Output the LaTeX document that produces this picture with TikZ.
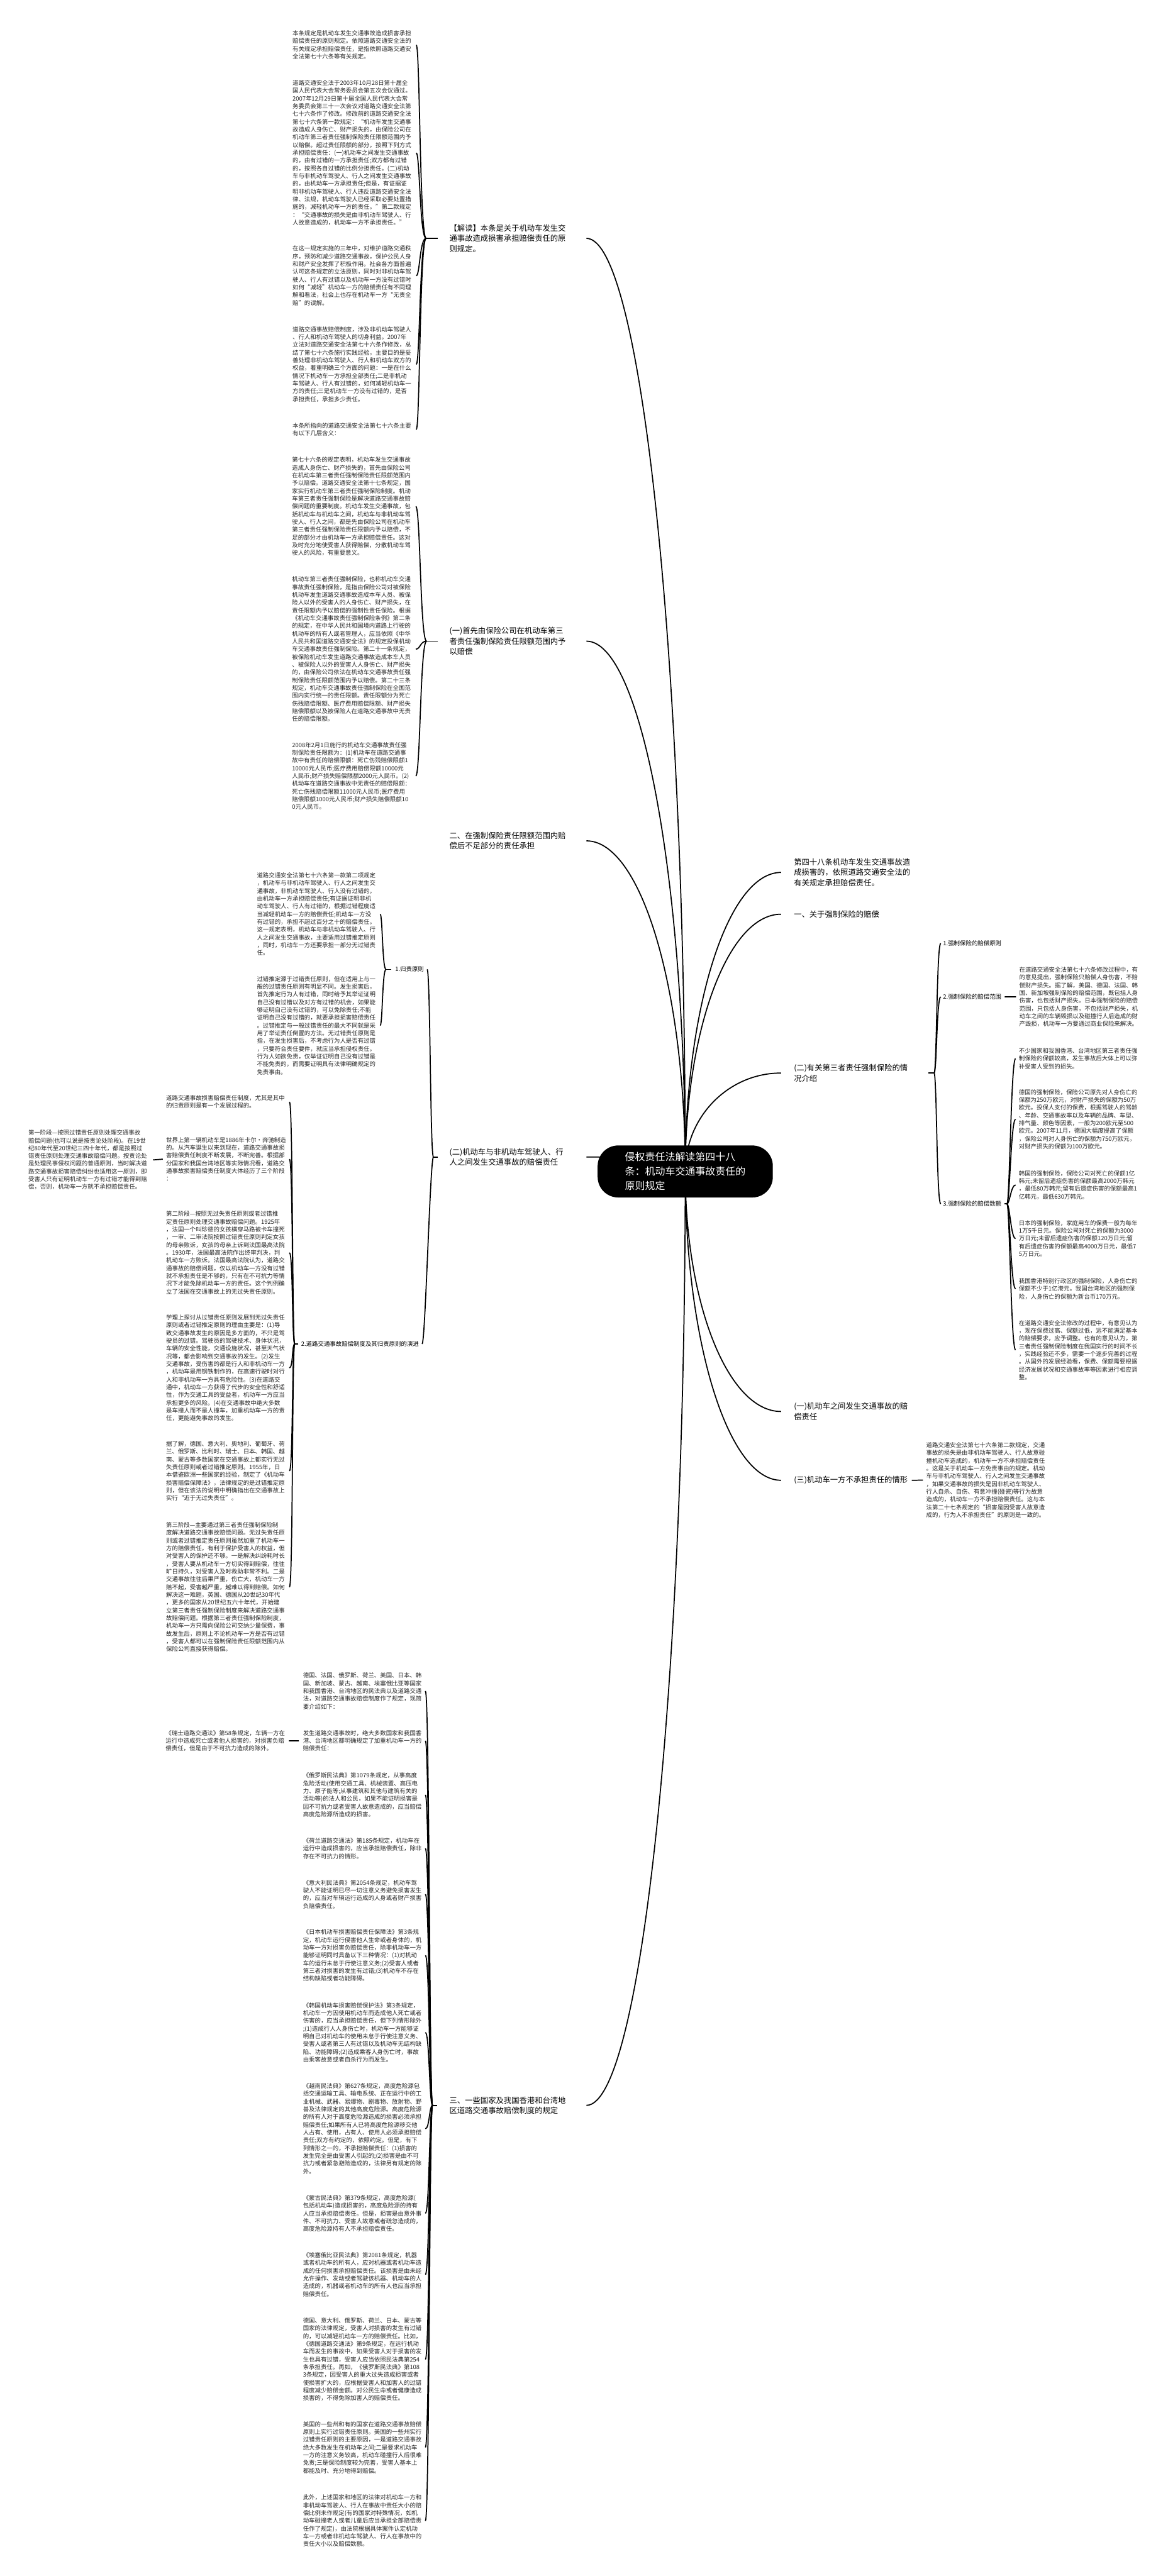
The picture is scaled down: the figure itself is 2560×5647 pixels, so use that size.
\documentclass[tikz,border=0pt]{standalone}
\usepackage{fontspec}
\setmainfont{Noto Sans CJK SC}
\usetikzlibrary{calc}
\definecolor{txt}{HTML}{262626}
\pgfdeclarelayer{bglayer}
\pgfsetlayers{bglayer,main}
\newcommand\ellc[2]{\draw[con] (#1) .. controls ($(#1)!0.552!(#1|-#2)$) and ($(#2)!0.552!(#1|-#2)$) .. (#2);}
\begin{document}
\begin{tikzpicture}[x=1pt,y=-1pt,
 blk/.style={font=\fontsize{13}{17}\selectfont, text width=262pt, align=left, inner sep=0pt, anchor=base west, text=txt},
 lvone/.style={font=\fontsize{17}{22.5}\selectfont, text width=260pt, align=left, inner sep=0pt, anchor=base west, text=black},
 lvtwo/.style={font=\fontsize{13}{17}\selectfont, inner sep=0pt, anchor=base west, text=black},
 cnode/.style={fill=black, text=white, rounded corners=45pt, font=\fontsize{22}{32}\selectfont, align=left, minimum width=384pt, minimum height=114pt, inner sep=0pt},
 con/.style={line width=2.4pt, draw=black}
]
\useasboundingbox (0,0) rectangle (2560,5647);
\begin{pgfonlayer}{bglayer}
\fill[white] (0,0) rectangle (2560,5647);
\end{pgfonlayer}

% ---------------- central node
\node[cnode] (C) at (1502,2568) {侵权责任法解读第四十八\\条：机动车交通事故责任的\\原则规定};

% ---------------- left level one
\node[lvone] (jd) at (985,506.5) {【解读】本条是关于机动车发生交\\通事故造成损害承担赔偿责任的原\\则规定。};
\node[lvone] (y1) at (985,1389.5) {(一)首先由保险公司在机动车第三\\者责任强制保险责任限额范围内予\\以赔偿};
\node[lvone] (e2) at (985,1838.5) {二、在强制保险责任限额范围内赔\\偿后不足部分的责任承担};
\node[lvone] (e2b) at (985,2531.5) {(二)机动车与非机动车驾驶人、行\\人之间发生交通事故的赔偿责任};
\node[lvone] (s3) at (985,4610.5) {三、一些国家及我国香港和台湾地\\区道路交通事故赔偿制度的规定};

% ---------------- right level one
\node[lvone] (r48) at (1740,1896.5) {第四十八条机动车发生交通事故造\\成损害的，依照道路交通安全法的\\有关规定承担赔偿责任。};
\node[lvone] (r1) at (1740,2010.5) {一、关于强制保险的赔偿};
\node[lvone] (r2) at (1740,2347.5) {(二)有关第三者责任强制保险的情\\况介绍};
\node[lvone] (ra) at (1740,3089.5) {(一)机动车之间发生交通事故的赔\\偿责任};
\node[lvone] (rc) at (1740,3250.5) {(三)机动车一方不承担责任的情形};

% ---------------- level two
\node[lvtwo] (g1) at (866,2130) {1.归责原则};
\node[lvtwo] (g2) at (660,2951) {2.道路交通事故赔偿制度及其归责原则的演进};
\node[lvtwo] (q1) at (2067,2073) {1.强制保险的赔偿原则};
\node[lvtwo] (q2) at (2067,2190) {2.强制保险的赔偿范围};
\node[lvtwo] (q3) at (2067,2644) {3.强制保险的赔偿数额};

% ---------------- blocks of 【解读】
\node[blk] (L1) at (641,78) {本条规定是机动车发生交通事故造成损害承担\\赔偿责任的原则规定。依照道路交通安全法的\\有关规定承担赔偿责任，是指依照道路交通安\\全法第七十六条等有关规定。};
\node[blk] (L2) at (641,187) {道路交通安全法于2003年10月28日第十届全\\国人民代表大会常务委员会第五次会议通过。\\2007年12月29日第十届全国人民代表大会常\\务委员会第三十一次会议对道路交通安全法第\\七十六条作了修改。修改前的道路交通安全法\\第七十六条第一款规定：“机动车发生交通事\\故造成人身伤亡、财产损失的，由保险公司在\\机动车第三者责任强制保险责任限额范围内予\\以赔偿。超过责任限额的部分，按照下列方式\\承担赔偿责任：(一)机动车之间发生交通事故\\的，由有过错的一方承担责任;双方都有过错\\的，按照各自过错的比例分担责任。(二)机动\\车与非机动车驾驶人、行人之间发生交通事故\\的，由机动车一方承担责任;但是，有证据证\\明非机动车驾驶人、行人违反道路交通安全法\\律、法规，机动车驾驶人已经采取必要处置措\\施的，减轻机动车一方的责任。”第二款规定\\：“交通事故的损失是由非机动车驾驶人、行\\人故意造成的，机动车一方不承担责任。”};
\node[blk] (L3) at (641,550) {在这一规定实施的三年中，对维护道路交通秩\\序，预防和减少道路交通事故，保护公民人身\\和财产安全发挥了积极作用。社会各方面普遍\\认可这条规定的立法原则，同时对非机动车驾\\驶人、行人有过错以及机动车一方没有过错时\\如何“减轻”机动车一方的赔偿责任有不同理\\解和看法，社会上也存在机动车一方“无责全\\赔”的误解。};
\node[blk] (L4) at (641,727) {道路交通事故赔偿制度，涉及非机动车驾驶人\\、行人和机动车驾驶人的切身利益。2007年\\立法对道路交通安全法第七十六条作修改，总\\结了第七十六条施行实践经验，主要目的是妥\\善处理非机动车驾驶人、行人和机动车双方的\\权益，着重明确三个方面的问题：一是在什么\\情况下机动车一方承担全部责任;二是非机动\\车驾驶人、行人有过错的，如何减轻机动车一\\方的责任;三是机动车一方没有过错的，是否\\承担责任，承担多少责任。};
\node[blk] (L5) at (641,938) {本条所指向的道路交通安全法第七十六条主要\\有以下几层含义：};

% ---------------- blocks of (一)
\node[blk] (Y1a) at (640,1013) {第七十六条的规定表明，机动车发生交通事故\\造成人身伤亡、财产损失的，首先由保险公司\\在机动车第三者责任强制保险责任限额范围内\\予以赔偿。道路交通安全法第十七条规定，国\\家实行机动车第三者责任强制保险制度。机动\\车第三者责任强制保险是解决道路交通事故赔\\偿问题的重要制度。机动车发生交通事故，包\\括机动车与机动车之间，机动车与非机动车驾\\驶人、行人之间，都是先由保险公司在机动车\\第三者责任强制保险责任限额内予以赔偿，不\\足的部分才由机动车一方承担赔偿责任。这对\\及时充分地使受害人获得赔偿，分散机动车驾\\驶人的风险，有重要意义。};
\node[blk] (Y1b) at (640,1275) {机动车第三者责任强制保险，也称机动车交通\\事故责任强制保险，是指由保险公司对被保险\\机动车发生道路交通事故造成本车人员、被保\\险人以外的受害人的人身伤亡、财产损失，在\\责任限额内予以赔偿的强制性责任保险。根据\\《机动车交通事故责任强制保险条例》第二条\\的规定，在中华人民共和国境内道路上行驶的\\机动车的所有人或者管理人，应当依照《中华\\人民共和国道路交通安全法》的规定投保机动\\车交通事故责任强制保险。第二十一条规定，\\被保险机动车发生道路交通事故造成本车人员\\、被保险人以外的受害人人身伤亡、财产损失\\的，由保险公司依法在机动车交通事故责任强\\制保险责任限额范围内予以赔偿。第二十三条\\规定，机动车交通事故责任强制保险在全国范\\围内实行统一的责任限额。责任限额分为死亡\\伤残赔偿限额、医疗费用赔偿限额、财产损失\\赔偿限额以及被保险人在道路交通事故中无责\\任的赔偿限额。};
\node[blk] (Y1c) at (640,1638) {2008年2月1日施行的机动车交通事故责任强\\制保险责任限额为：(1)机动车在道路交通事\\故中有责任的赔偿限额：死亡伤残赔偿限额1\\10000元人民币;医疗费用赔偿限额10000元\\人民币;财产损失赔偿限额2000元人民币。(2)\\机动车在道路交通事故中无责任的赔偿限额：\\死亡伤残赔偿限额11000元人民币;医疗费用\\赔偿限额1000元人民币;财产损失赔偿限额10\\0元人民币。};

% ---------------- blocks of 1.归责原则
\node[blk] (G1a) at (563,1924) {道路交通安全法第七十六条第一款第二项规定\\，机动车与非机动车驾驶人、行人之间发生交\\通事故，非机动车驾驶人、行人没有过错的，\\由机动车一方承担赔偿责任;有证据证明非机\\动车驾驶人、行人有过错的，根据过错程度适\\当减轻机动车一方的赔偿责任;机动车一方没\\有过错的，承担不超过百分之十的赔偿责任。\\这一规定表明，机动车与非机动车驾驶人、行\\人之间发生交通事故，主要适用过错推定原则\\，同时，机动车一方还要承担一部分无过错责\\任。};
\node[blk] (G1b) at (563,2151) {过错推定源于过错责任原则，但在适用上与一\\般的过错责任原则有明显不同。发生损害后，\\首先推定行为人有过错，同时给予其举证证明\\自己没有过错以及对方有过错的机会，如果能\\够证明自己没有过错的，可以免除责任;不能\\证明自己没有过错的，就要承担损害赔偿责任\\。过错推定与一般过错责任的最大不同就是采\\用了举证责任倒置的方法。无过错责任原则是\\指，在发生损害后，不考虑行为人是否有过错\\，只要符合责任要件，就应当承担侵权责任。\\行为人如欲免责，仅举证证明自己没有过错是\\不能免责的，而需要证明具有法律明确规定的\\免责事由。};

% ---------------- blocks of 2.道路交通事故赔偿制度
\node[blk] (G2a) at (364,2412) {道路交通事故损害赔偿责任制度，尤其是其中\\的归责原则是有一个发展过程的。};
\node[blk] (G2b) at (364,2504) {世界上第一辆机动车是1886年卡尔·奔驰制造\\的。从汽车诞生以来到现在，道路交通事故损\\害赔偿责任制度不断发展，不断完善。根据部\\分国家和我国台湾地区等实际情况看，道路交\\通事故损害赔偿责任制度大体经历了三个阶段\\：};
\node[blk] (D1) at (62,2488) {第一阶段—按照过错责任原则处理交通事故\\赔偿问题(也可以说是按责论处阶段)。在19世\\纪80年代至20世纪三四十年代，都是按照过\\错责任原则处理交通事故赔偿问题。按责论处\\是处理民事侵权问题的普通原则，当时解决道\\路交通事故损害赔偿纠纷也适用这一原则，即\\受害人只有证明机动车一方有过错才能得到赔\\偿，否则，机动车一方就不承担赔偿责任。};
\node[blk] (G2c) at (364,2666) {第二阶段—按照无过失责任原则或者过错推\\定责任原则处理交通事故赔偿问题。1925年\\，法国一个叫珍德的女孩横穿马路被卡车撞死\\，一审、二审法院按照过错责任原则判定女孩\\的母亲败诉，女孩的母亲上诉到法国最高法院\\。1930年，法国最高法院作出终审判决，判\\机动车一方败诉。法国最高法院认为，道路交\\通事故的赔偿问题，仅以机动车一方没有过错\\就不承担责任是不够的，只有在不可抗力等情\\况下才能免除机动车一方的责任。这个判例确\\立了法国在交通事故上的无过失责任原则。};
\node[blk] (G2d) at (364,2893) {学理上探讨从过错责任原则发展到无过失责任\\原则或者过错推定原则的理由主要是：(1)导\\致交通事故发生的原因是多方面的，不只是驾\\驶员的过错。驾驶员的驾驶技术、身体状况，\\车辆的安全性能，交通设施状况，甚至天气状\\况等，都会影响到交通事故的发生。(2)发生\\交通事故，受伤害的都是行人和非机动车一方\\，机动车是用钢铁制作的，在高速行驶时对行\\人和非机动车一方具有危险性。(3)在道路交\\通中，机动车一方获得了代步的安全性和舒适\\性，作为交通工具的受益者，机动车一方应当\\承担更多的风险。(4)在交通事故中绝大多数\\是车撞人而不是人撞车，加重机动车一方的责\\任，更能避免事故的发生。};
\node[blk] (G2e) at (364,3170) {据了解，德国、意大利、奥地利、葡萄牙、荷\\兰、俄罗斯、比利时、瑞士、日本、韩国、越\\南、蒙古等多数国家在交通事故上都实行无过\\失责任原则或者过错推定原则。1955年，日\\本借鉴欧洲一些国家的经验，制定了《机动车\\损害赔偿保障法》，法律规定的是过错推定原\\则，但在该法的说明中明确指出在交通事故上\\实行“近于无过失责任”。};
\node[blk] (G2f) at (364,3348) {第三阶段—主要通过第三者责任强制保险制\\度解决道路交通事故赔偿问题。无过失责任原\\则或者过错推定责任原则虽然加重了机动车一\\方的赔偿责任，有利于保护受害人的权益，但\\对受害人的保护还不够。一是解决纠纷耗时长\\，受害人要从机动车一方切实得到赔偿，往往\\旷日持久，对受害人及时救助非常不利。二是\\交通事故往往后果严重，伤亡大，机动车一方\\赔不起，受害越严重，越难以得到赔偿。如何\\解决这一难题，英国、德国从20世纪30年代\\，更多的国家从20世纪五六十年代，开始建\\立第三者责任强制保险制度来解决道路交通事\\故赔偿问题。根据第三者责任强制保险制度，\\机动车一方只需向保险公司交纳少量保费，事\\故发生后，原则上不论机动车一方是否有过错\\，受害人都可以在强制保险责任限额范围内从\\保险公司直接获得赔偿。};

% ---------------- blocks of 三、
\node[blk] (S3a) at (664,3678) {德国、法国、俄罗斯、荷兰、美国、日本、韩\\国、新加坡、蒙古、越南、埃塞俄比亚等国家\\和我国香港、台湾地区的民法典以及道路交通\\法，对道路交通事故赔偿制度作了规定，现简\\要介绍如下：};
\node[blk] (S3b) at (664,3804) {发生道路交通事故时，绝大多数国家和我国香\\港、台湾地区都明确规定了加重机动车一方的\\赔偿责任：};
\node[blk] (FSL) at (363,3804) {《瑞士道路交通法》第58条规定，车辆一方在\\运行中造成死亡或者他人损害的，对损害负赔\\偿责任，但是由于不可抗力造成的除外。};
\node[blk] (S3c) at (664,3897) {《俄罗斯民法典》第1079条规定，从事高度\\危险活动(使用交通工具、机械装置、高压电\\力、原子能等;从事建筑和其他与建筑有关的\\活动等)的法人和公民，如果不能证明损害是\\因不可抗力或者受害人故意造成的，应当赔偿\\高度危险源所造成的损害。};
\node[blk] (S3d) at (664,4040) {《荷兰道路交通法》第185条规定，机动车在\\运行中造成损害的，应当承担赔偿责任，除非\\存在不可抗力的情形。};
\node[blk] (S3e) at (664,4132) {《意大利民法典》第2054条规定，机动车驾\\驶人不能证明已尽一切注意义务避免损害发生\\的，应当对车辆运行造成的人身或者财产损害\\负赔偿责任。};
\node[blk] (S3f) at (664,4240.5) {《日本机动车损害赔偿责任保障法》第3条规\\定，机动车运行侵害他人生命或者身体的，机\\动车一方对损害负赔偿责任，除非机动车一方\\能够证明同时具备以下三种情况：(1)对机动\\车的运行未怠于行使注意义务;(2)受害人或者\\第三者对损害的发生有过错;(3)机动车不存在\\结构缺陷或者功能障碍。};
\node[blk] (S3g) at (664,4401) {《韩国机动车损害赔偿保护法》第3条规定，\\机动车一方因使用机动车而造成他人死亡或者\\伤害的，应当承担赔偿责任，但下列情形除外\\;(1)造成行人人身伤亡时，机动车一方能够证\\明自己对机动车的使用未怠于行使注意义务、\\受害人或者第三人有过错以及机动车无结构缺\\陷、功能障碍;(2)造成乘客人身伤亡时，事故\\由乘客故意或者自杀行为而发生。};
\node[blk] (S3h) at (664,4578) {《越南民法典》第627条规定，高度危险源包\\括交通运输工具、输电系统、正在运行中的工\\业机械、武器、易爆物、剧毒物、放射物、野\\兽及法律规定的其他高度危险源。高度危险源\\的所有人对于高度危险源造成的损害必须承担\\赔偿责任;如果所有人已将高度危险源移交他\\人占有、使用，占有人、使用人必须承担赔偿\\责任;双方有约定的，依照约定。但是，有下\\列情形之一的，不承担赔偿责任：(1)损害的\\发生完全是由受害人引起的;(2)损害是由不可\\抗力或者紧急避险造成的，法律另有规定的除\\外。};
\node[blk] (S3i) at (664,4823) {《蒙古民法典》第379条规定，高度危险源(\\包括机动车)造成损害的，高度危险源的持有\\人应当承担赔偿责任。但是，损害是由意外事\\件、不可抗力、受害人故意或者疏忽造成的，\\高度危险源持有人不承担赔偿责任。};
\node[blk] (S3j) at (664,4948.5) {《埃塞俄比亚民法典》第2081条规定，机器\\或者机动车的所有人，应对机器或者机动车造\\成的任何损害承担赔偿责任。该损害是由未经\\允许操作、发动或者驾驶该机器、机动车的人\\造成的，机器或者机动车的所有人也应当承担\\赔偿责任。};
\node[blk] (S3k) at (664,5092) {德国、意大利、俄罗斯、荷兰、日本、蒙古等\\国家的法律规定，受害人对损害的发生有过错\\的，可以减轻机动车一方的赔偿责任。比如，\\《德国道路交通法》第9条规定，在运行机动\\车而发生的事故中，如果受害人对于损害的发\\生也具有过错，受害人应当依照民法典第254\\条承担责任。再如，《俄罗斯民法典》第108\\3条规定，因受害人的重大过失造成损害或者\\使损害扩大的，应根据受害人和加害人的过错\\程度减少赔偿金额。对公民生命或者健康造成\\损害的，不得免除加害人的赔偿责任。};
\node[blk] (S3l) at (664,5319) {美国的一些州和有的国家在道路交通事故赔偿\\原则上实行过错责任原则。美国的一些州实行\\过错责任原则的主要原因，一是道路交通事故\\绝大多数发生在机动车之间;二是要求机动车\\一方的注意义务较高，机动车碰撞行人后很难\\免责;三是保险制度较为完善，受害人基本上\\都能及时、充分地得到赔偿。};
\node[blk] (S3m) at (664,5480) {此外，上述国家和地区的法律对机动车一方和\\非机动车驾驶人、行人在事故中责任大小的赔\\偿比例未作规定(有的国家对特殊情况，如机\\动车碰撞老人或者儿童后应当承担全部赔偿责\\任作了规定)，由法院根据具体案件认定机动\\车一方或者非机动车驾驶人、行人在事故中的\\责任大小以及赔偿数额。};

% ---------------- right blocks
\node[blk] (R2b) at (2234,2130.5) {在道路交通安全法第七十六条修改过程中，有\\的意见提出，强制保险只赔偿人身伤害，不赔\\偿财产损失。据了解，美国、德国、法国、韩\\国、新加坡强制保险的赔偿范围，既包括人身\\伤害，也包括财产损失。日本强制保险的赔偿\\范围，只包括人身伤害，不包括财产损失，机\\动车之间的车辆毁损以及碰撞行人后造成的财\\产毁损，机动车一方要通过商业保险来解决。};
\node[blk] (B3a) at (2233,2308.5) {不少国家和我国香港、台湾地区第三者责任强\\制保险的保额较高，发生事故后大体上可以弥\\补受害人受到的损失。};
\node[blk] (B3b) at (2233,2399) {德国的强制保险，保险公司原先对人身伤亡的\\保额为250万欧元，对财产损失的保额为50万\\欧元。投保人支付的保费，根据驾驶人的驾龄\\、年龄、交通事故率以及车辆的品牌、车型、\\排气量、颜色等因素，一般为200欧元至500\\欧元。2007年11月，德国大幅度提高了保额\\，保险公司对人身伤亡的保额为750万欧元，\\对财产损失的保额为100万欧元。};
\node[blk] (B3c) at (2233,2577) {韩国的强制保险，保险公司对死亡的保额1亿\\韩元;未留后遗症伤害的保额最高2000万韩元\\，最低80万韩元;留有后遗症伤害的保额最高1\\亿韩元，最低630万韩元。};
\node[blk] (B3d) at (2233,2686) {日本的强制保险，家庭用车的保费一般为每年\\1万5千日元。保险公司对死亡的保额为3000\\万日元;未留后遗症伤害的保额120万日元;留\\有后遗症伤害的保额最高4000万日元，最低7\\5万日元。};
\node[blk] (B3e) at (2233,2813) {我国香港特别行政区的强制保险，人身伤亡的\\保额不少于1亿港元。我国台湾地区的强制保\\险，人身伤亡的保额为新台币170万元。};
\node[blk] (B3f) at (2233,2905) {在道路交通安全法修改的过程中，有意见认为\\，现在保费过高、保额过低，远不能满足基本\\的赔偿要求，应予调整。也有的意见认为，第\\三者责任强制保险制度在我国实行的时间不长\\，实践经验还不多，需要一个逐步完善的过程\\。从国外的发展经验看，保费、保额需要根据\\经济发展状况和交通事故率等因素进行相应调\\整。};
\node[blk] (RCb) at (2030,3173) {道路交通安全法第七十六条第二款规定，交通\\事故的损失是由非机动车驾驶人、行人故意碰\\撞机动车造成的，机动车一方不承担赔偿责任\\。这是关于机动车一方免责事由的规定。机动\\车与非机动车驾驶人、行人之间发生交通事故\\，如果交通事故的损失是因非机动车驾驶人、\\行人自杀、自伤、有意冲撞(碰瓷)等行为故意\\造成的，机动车一方不承担赔偿责任。这与本\\法第二十七条规定的“损害是因受害人故意造\\成的，行为人不承担责任”的原则是一致的。};

% ---------------- connectors
\begin{pgfonlayer}{bglayer}
\coordinate (jdE) at ([xshift=40]jd.east);
\coordinate (y1E) at ([xshift=40]y1.east);
\coordinate (e2E) at ([xshift=40]e2.east);
\coordinate (e2bE) at ([xshift=40]e2b.east);
\coordinate (s3E) at ([xshift=40]s3.east);
\coordinate (r48E) at ([xshift=-28]r48.west);
\coordinate (r1E) at ([xshift=-28]r1.west);
\coordinate (r2E) at ([xshift=-28]r2.west);
\coordinate (raE) at ([xshift=-28]ra.west);
\coordinate (rcE) at ([xshift=-28]rc.west);
\foreach \t in {jdE,y1E,e2E,e2bE,s3E,r48E,r1E,r2E,raE,rcE}{\ellc{C.center}{\t}}

\coordinate (jdS) at ([xshift=-51]jd.west);
\draw[con] ([xshift=-25]jd.west) -- (jdS);
\foreach \b in {L1,L2,L3,L4,L5}{\draw[con] (jdS) .. controls +(-14,0) and +(8,0) .. ([xshift=9]\b.east);}

\coordinate (y1S) at ([xshift=-50]y1.west);
\draw[con] ([xshift=-25]y1.west) -- (y1S);
\foreach \b in {Y1a,Y1b,Y1c}{\draw[con] (y1S) .. controls +(-14,0) and +(10,0) .. ([xshift=9]\b.east);}

\coordinate (e2bS) at ([xshift=-35]e2b.west);
\draw[con] ([xshift=-25]e2b.west) -- (e2bS);
\foreach \b in {g1,g2}{\draw[con] (e2bS) .. controls +(-7,0) and +(7,0) .. ([xshift=7]\b.east);}

\coordinate (g1S) at ([xshift=-20]g1.west);
\draw[con] ([xshift=-9]g1.west) -- (g1S);
\foreach \b in {G1a,G1b}{\draw[con] (g1S) .. controls +(-8,0) and +(5,0) .. ([xshift=8]\b.east);}

\coordinate (g2S) at ([xshift=-14]g2.west);
\draw[con] ([xshift=-6]g2.west) -- (g2S);
\foreach \b in {G2a,G2b,G2c,G2d,G2e,G2f}{\draw[con] (g2S) .. controls +(-6,0) and +(8,0) .. ([xshift=8]\b.east);}
\draw[con] ([xshift=-7]G2b.west) -- ([xshift=11]D1.east);

\coordinate (s3S) at ([xshift=-37]s3.west);
\draw[con] ([xshift=-27]s3.west) -- (s3S);
\foreach \b in {S3a,S3b,S3c,S3d,S3e,S3f,S3g,S3h,S3i,S3j,S3k,S3l,S3m}{\draw[con] (s3S) .. controls +(-7,0) and +(9,0) .. ([xshift=6]\b.east);}
\draw[con] ([xshift=-9]S3b.west) -- ([xshift=8]FSL.east);

\coordinate (r2S) at ([xshift=47]r2.east);
\draw[con] ([xshift=35]r2.east) -- (r2S);
\foreach \b in {q1,q2,q3}{\draw[con] (r2S) .. controls +(6,0) and +(-9,0) .. ([xshift=-5]\b.west);}
\draw[con] ([xshift=7]q2.east) -- ([xshift=-7]R2b.west);
\coordinate (q3S) at ([xshift=12]q3.east);
\draw[con] ([xshift=7]q3.east) -- (q3S);
\foreach \b in {B3a,B3b,B3c,B3d,B3e,B3f}{\draw[con] (q3S) .. controls +(6,0) and +(-10,0) .. ([xshift=-7]\b.west);}

\draw[con] ([xshift=-2]rc.east) -- ([xshift=-7]RCb.west);
\end{pgfonlayer}
\end{tikzpicture}
\end{document}
